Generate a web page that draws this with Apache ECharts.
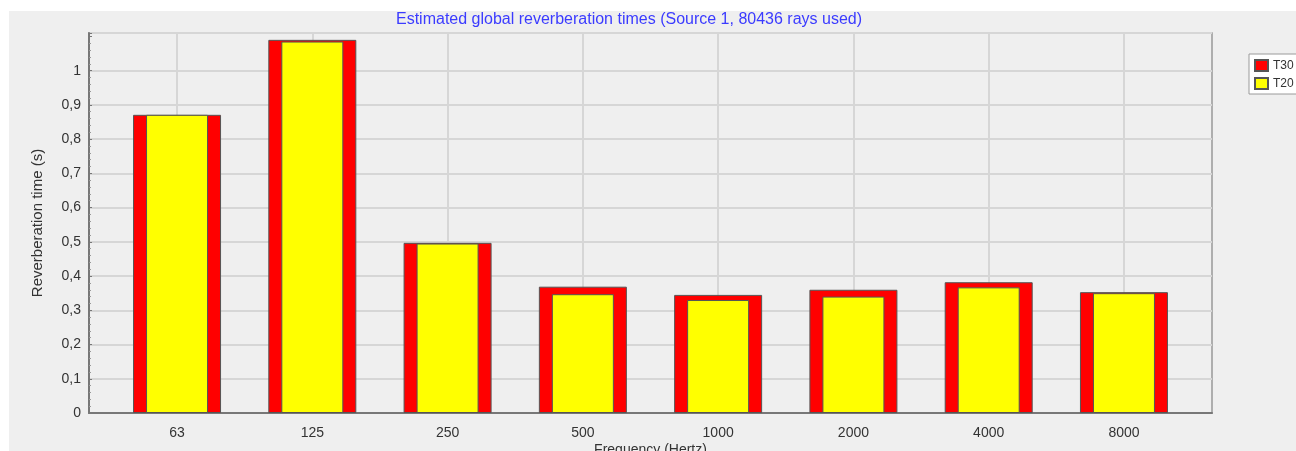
<!DOCTYPE html>
<html><head><meta charset="utf-8">
<script src="https://cdn.jsdelivr.net/npm/echarts@6/dist/echarts.min.js"></script>
<style>html,body{margin:0;padding:0;background:#fff}#c{width:1296px;height:451px}</style>
</head><body><div id="c"></div>
<script>
const categories = ['63','125','250','500','1000','2000','4000','8000'];
const t30 = [0.871, 1.090, 0.497, 0.369, 0.345, 0.360, 0.382, 0.353];
const t20 = [0.871, 1.085, 0.495, 0.347, 0.330, 0.340, 0.367, 0.350];
const titleText = 'Estimated global reverberation times (Source 1, 80436 rays used)';

const chart = echarts.init(document.getElementById('c'), null, {renderer:'canvas'});
const FF = 'Liberation Sans, Arial, sans-serif';
const labelFont = {fontFamily:FF, color:'#333', fontSize:14};
const yMax = 1.11;
const gridCol = '#d6d6d6';
const splitColors = [gridCol,gridCol,gridCol,gridCol,gridCol,gridCol,gridCol,gridCol,gridCol,gridCol,gridCol,'rgba(0,0,0,0)',gridCol];
chart.setOption({
  backgroundColor:'#ffffff',
  animation:false,
  graphic:[{type:'rect', z:-10, shape:{x:9,y:11,width:1300,height:450}, style:{fill:'#efefef'}}],
  title:{text:titleText, left:396, top:12, padding:0, textStyle:{fontFamily:FF, fontSize:16, fontWeight:'normal', color:'#3b3bff'}},
  legend:{orient:'vertical', left:1249, top:54, itemWidth:13, itemHeight:11, itemGap:5,
    padding:[5,6,4,5], borderColor:'#9a9a9a', borderWidth:1, backgroundColor:'#ffffff',
    textStyle:{fontFamily:FF, fontSize:12, color:'#333'},
    data:[{name:'T30', icon:'rect'},{name:'T20', icon:'rect'}]},
  grid:[
    {left:89, top:33, right:84, bottom:38, outerBoundsMode:'none', containLabel:false,
     show:true, backgroundColor:'#efefef', borderColor:'#999', borderWidth:1.5},
    {left:109.4, top:33, right:104.4, bottom:38, outerBoundsMode:'none', containLabel:false, show:false}
  ],
  xAxis:[
    {type:'value', gridIndex:0, min:0, max:1,
     name:'Frequency (Hertz)', nameLocation:'middle', nameGap:30, nameTextStyle:labelFont,
     axisLine:{show:true, lineStyle:{color:'#777', width:2}}, axisTick:{show:false},
     axisLabel:{show:false}, splitLine:{show:false}},
    {type:'category', gridIndex:1, data:categories, boundaryGap:true,
     axisLine:{show:false}, axisTick:{show:false},
     axisLabel:Object.assign({margin:13}, labelFont),
     splitLine:{show:true, alignWithLabel:true, lineStyle:{color:gridCol, width:2}}},
    {type:'category', gridIndex:1, data:categories, show:false}
  ],
  yAxis:[
    {type:'value', gridIndex:0, min:0, max:yMax, interval:0.1,
     name:'Reverberation time (s)', nameLocation:'middle', nameGap:44, nameTextStyle:{fontFamily:FF, fontSize:15, color:'#333'},
     axisLine:{show:true, lineStyle:{color:'#777', width:2}},
     axisTick:{show:true, inside:true, length:3, lineStyle:{color:'#777'}},
     minorTick:{show:true, splitNumber:5, length:2, lineStyle:{color:'#999'}},
     axisLabel:Object.assign({margin:8, formatter:function(v){ if (v>1.05) return ''; return String(Math.round(v*10)/10).replace('.',','); }}, labelFont),
     splitLine:{show:true, lineStyle:{color:splitColors, width:2}}},
    {type:'value', gridIndex:1, min:0, max:yMax, interval:0.1, show:false, splitLine:{show:false}}
  ],
  series:[
    {name:'T30', type:'bar', xAxisIndex:1, yAxisIndex:1, data:t30, barWidth:88,
     itemStyle:{color:'#ff0000', borderColor:'#555', borderWidth:1}},
    {name:'T20', type:'bar', xAxisIndex:2, yAxisIndex:1, data:t20, barWidth:62,
     itemStyle:{color:'#ffff00', borderColor:'#555', borderWidth:1}}
  ]
});
</script></body></html>
